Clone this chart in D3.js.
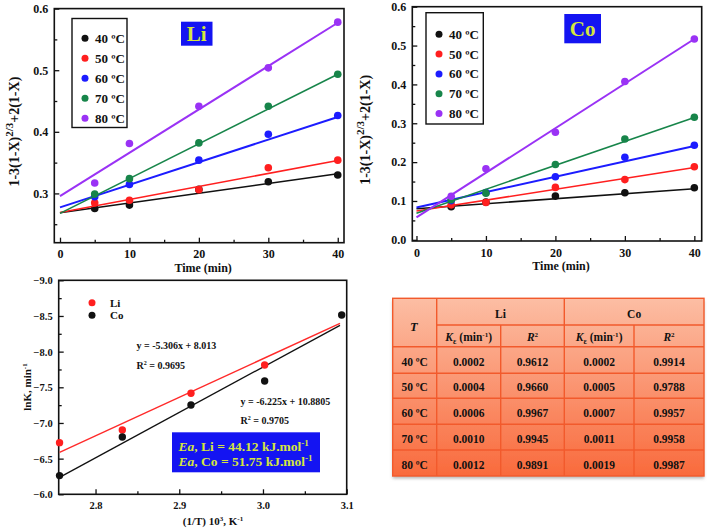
<!DOCTYPE html>
<html><head><meta charset="utf-8">
<script src="https://cdn.jsdelivr.net/npm/d3@7"></script>
<style>
body{margin:0;background:#fff}
svg{display:block}
text{font-family:"Liberation Serif","Times New Roman",serif;font-weight:bold;fill:#111}
</style>
</head><body>
<svg id="c" width="708" height="529"></svg>
<script>
// ---------- data ----------
const times = [5, 10, 20, 30, 40];
const fitTimes = [0, 40];
const temps = ["40 ºC", "50 ºC", "60 ºC", "70 ºC", "80 ºC"];
const timeTicks = [0, 10, 20, 30, 40];
const timeMinor = [5, 15, 25, 35];

// Li leaching, 1-3(1-X)^(2/3)+2(1-X)
const li40 = [0.2757, 0.281, 0.3065, 0.319, 0.330];
const li50 = [0.2848, 0.289, 0.306, 0.3416, 0.354];
const li60 = [0.2945, 0.3146, 0.354, 0.396, 0.4265];
const li70 = [0.2989, 0.324, 0.382, 0.4416, 0.4935];
const li80 = [0.317, 0.381, 0.4416, 0.5038, 0.578];
const liFitStart = [0.2686, 0.269, 0.2773, 0.2676, 0.2957];
const liFitEnd = [0.332, 0.3535, 0.424, 0.4935, 0.577];
const liYTicks = [0.3, 0.4, 0.5, 0.6];
const liYMinor = [0.25, 0.35, 0.45, 0.55];

// Co leaching
const co40 = [0.085, 0.097, 0.1126, 0.121, 0.134];
const co50 = [0.090, 0.096, 0.135, 0.155, 0.188];
const co60 = [0.101, 0.122, 0.1625, 0.2124, 0.2433];
const co70 = [0.103, 0.120, 0.194, 0.2597, 0.3156];
const co80 = [0.112, 0.183, 0.277, 0.4076, 0.5168];
const coFitStart = [0.080, 0.074, 0.083, 0.0686, 0.058];
const coFitEnd = [0.1316, 0.186, 0.2416, 0.3147, 0.5168];
const coYTicks = [0.0, 0.1, 0.2, 0.3, 0.4, 0.5, 0.6];
const coYMinor = [0.05, 0.15, 0.25, 0.35, 0.45, 0.55];

// Arrhenius plot
const invTLi = [2.757, 2.832, 2.914, 3.002];
const lnKLi = [-6.724, -6.902, -7.416, -7.813];
const invTCo = [2.757, 2.832, 2.914, 3.002, 3.094];
const lnKCo = [-6.262, -6.804, -7.252, -7.589, -8.514];
const fitInvT = [2.757, 3.092];
const lnKLiFit = [-6.589, -8.397];
const lnKCoFit = [-6.238, -8.369];
const invTTicks = [2.8, 2.9, 3.0, 3.1];
const invTMinor = [2.85, 2.95, 3.05];
const lnKTicks = [-9.0, -8.5, -8.0, -7.5, -7.0, -6.5, -6.0];
const lnKMinor = [-8.75, -8.25, -7.75, -7.25, -6.75, -6.25];

// Table
const tableTemps = ["40 ºC", "50 ºC", "60 ºC", "70 ºC", "80 ºC"];
const tableLiK = ["0.0002", "0.0004", "0.0006", "0.0010", "0.0012"];
const tableLiR2 = ["0.9612", "0.9660", "0.9967", "0.9945", "0.9891"];
const tableCoK = ["0.0002", "0.0005", "0.0007", "0.0011", "0.0019"];
const tableCoR2 = ["0.9914", "0.9788", "0.9957", "0.9958", "0.9987"];

// ---------- drawing ----------
const colors = ["#111111", "#ff1f1f", "#1c1cff", "#17854a", "#9a32f5"];
const svg = d3.select("#c");
const defs = svg.append("defs");

function styleAxis(sel, fs) {
  sel.select(".domain").remove();
  sel.selectAll(".tick line").attr("stroke", "#111").attr("stroke-width", 1.3);
  sel.selectAll(".tick text").attr("font-size", fs).attr("fill", "#111")
     .attr("font-family", '"Liberation Serif",serif').attr("font-weight", "bold");
}

function frameAxes(g, x, y, xt, xm, yt, ym, fmtX, fmtY, fs) {
  const [xa, xb] = x.range(), [ya, yb] = y.range();
  const gx = g.append("g").attr("transform", `translate(0,${ya})`)
    .call(d3.axisBottom(x).tickValues(xt).tickSize(-5).tickSizeOuter(0).tickPadding(7).tickFormat(fmtX));
  styleAxis(gx, fs);
  const gxm = g.append("g").attr("transform", `translate(0,${ya})`)
    .call(d3.axisBottom(x).tickValues(xm).tickSize(-3).tickSizeOuter(0).tickFormat(""));
  styleAxis(gxm, fs);
  const gy = g.append("g").attr("transform", `translate(${xa},0)`)
    .call(d3.axisLeft(y).tickValues(yt).tickSize(-5).tickSizeOuter(0).tickPadding(6).tickFormat(fmtY));
  styleAxis(gy, fs);
  const gym = g.append("g").attr("transform", `translate(${xa},0)`)
    .call(d3.axisLeft(y).tickValues(ym).tickSize(-3).tickSizeOuter(0).tickFormat(""));
  styleAxis(gym, fs);
  g.append("rect").attr("x", xa).attr("y", yb).attr("width", xb - xa).attr("height", ya - yb)
    .attr("fill", "none").attr("stroke", "#111").attr("stroke-width", 1.6);
}

function kineticPanel(cfg) {
  const g = svg.append("g");
  const x = d3.scaleLinear().domain(cfg.xDomain).range([cfg.left, cfg.right]);
  const y = d3.scaleLinear().domain(cfg.yDomain).range([cfg.bottom, cfg.top]);
  frameAxes(g, x, y, timeTicks, timeMinor, cfg.yTicks, cfg.yMinor, d3.format("d"), d3.format(".1f"), 12);
  const line = d3.line().x(d => x(d[0])).y(d => y(d[1]));
  cfg.series.forEach((vals, i) => {
    g.append("path").datum(fitTimes.map((t, j) => [t, j === 0 ? cfg.fitStart[i] : cfg.fitEnd[i]]))
      .attr("d", line).attr("fill", "none").attr("stroke", colors[i])
      .attr("stroke-width", i === 2 || i === 4 ? 2 : 1.6);
    g.selectAll(null).data(vals).enter().append("circle")
      .attr("cx", (d, j) => x(times[j])).attr("cy", d => y(d)).attr("r", 3.8)
      .attr("fill", colors[i]);
  });
  // legend
  const lg = cfg.legend;
  g.append("rect").attr("x", lg.x).attr("y", lg.y).attr("width", lg.w).attr("height", lg.h)
    .attr("fill", "#fff").attr("stroke", "#111").attr("stroke-width", 1.4);
  temps.forEach((t, i) => {
    const yy = lg.y + lg.first + i * lg.step;
    g.append("circle").attr("cx", lg.x + 13).attr("cy", yy).attr("r", 3.5).attr("fill", colors[i]);
    g.append("text").attr("x", lg.x + 23).attr("y", yy).attr("dy", "0.35em")
      .attr("font-size", 13).text(t);
  });
  // element box
  const eb = cfg.elem;
  g.append("rect").attr("x", eb.x).attr("y", eb.y).attr("width", eb.w).attr("height", eb.h).attr("fill", "#1414f2");
  g.append("text").attr("x", eb.x + eb.w / 2).attr("y", eb.y + eb.h / 2).attr("dy", "0.36em")
    .attr("text-anchor", "middle").attr("font-size", 21).style("fill", "#d5e63c").text(cfg.label);
  // axis titles
  g.append("text").attr("x", (cfg.left + cfg.right) / 2 + 4).attr("y", cfg.bottom + 29)
    .attr("text-anchor", "middle").attr("font-size", 12).text("Time (min)");
  const yt = g.append("text").attr("transform", `translate(${cfg.ytx},${(cfg.top + cfg.bottom) / 2 + 6}) rotate(-90)`)
    .attr("text-anchor", "middle").attr("font-size", 14);
  yt.append("tspan").text("1-3(1-X)");
  yt.append("tspan").attr("dy", -6).attr("font-size", 11).text("2/3");
  yt.append("tspan").attr("dy", 6).text("+2(1-X)");
}

kineticPanel({
  left: 54.3, right: 344, top: 8.6, bottom: 242.7,
  xDomain: [-0.82, 40.9], yDomain: [0.22, 0.6],
  yTicks: liYTicks, yMinor: liYMinor,
  series: [li40, li50, li60, li70, li80], fitStart: liFitStart, fitEnd: liFitEnd,
  legend: {x: 72, y: 18.5, w: 55, h: 109, first: 19.8, step: 20},
  elem: {x: 181, y: 21.7, w: 31.5, h: 24},
  label: "Li", ytx: 19
});

kineticPanel({
  left: 412.3, right: 701.7, top: 6.7, bottom: 241,
  xDomain: [-0.6, 41.06], yDomain: [-0.003, 0.6],
  yTicks: coYTicks, yMinor: coYMinor,
  series: [co40, co50, co60, co70, co80], fitStart: coFitStart, fitEnd: coFitEnd,
  legend: {x: 426, y: 12.7, w: 57.3, h: 111.3, first: 21.6, step: 19.8},
  elem: {x: 564.3, y: 14, w: 36.7, h: 29.3},
  label: "Co", ytx: 370
});

// ---------- Arrhenius panel ----------
(function () {
  const g = svg.append("g");
  const x = d3.scaleLinear().domain([2.756, 3.1]).range([58.7, 346.7]);
  const y = d3.scaleLinear().domain([-6, -9]).range([494.3, 280.3]);
  frameAxes(g, x, y, invTTicks, invTMinor, lnKTicks, lnKMinor, d3.format(".1f"), d3.format(".1f"), 10.5);
  const line = d3.line().x(d => x(d[0])).y(d => y(d[1]));
  g.append("path").datum(fitInvT.map((t, j) => [t, lnKLiFit[j]])).attr("d", line)
    .attr("fill", "none").attr("stroke", "#ff2a2a").attr("stroke-width", 1.4);
  g.append("path").datum(fitInvT.map((t, j) => [t, lnKCoFit[j]])).attr("d", line)
    .attr("fill", "none").attr("stroke", "#111").attr("stroke-width", 1.3);
  g.selectAll(null).data(lnKLi).enter().append("circle")
    .attr("cx", (d, i) => x(invTLi[i])).attr("cy", d => y(d)).attr("r", 3.7).attr("fill", "#ff1f1f");
  g.selectAll(null).data(lnKCo).enter().append("circle")
    .attr("cx", (d, i) => x(invTCo[i])).attr("cy", d => y(d)).attr("r", 3.7).attr("fill", "#111");
  // legend
  [["Li", "#ff1f1f", 302.7], ["Co", "#111", 315.3]].forEach(([t, c, yy]) => {
    g.append("circle").attr("cx", 92).attr("cy", yy).attr("r", 3.5).attr("fill", c);
    g.append("text").attr("x", 110).attr("y", yy).attr("dy", "0.35em").attr("font-size", 11).text(t);
  });
  // equations
  const eq = (xx, yy, s) => g.append("text").attr("x", xx).attr("y", yy).attr("font-size", 10).text(s);
  eq(136.5, 348.5, "y = -5.306x + 8.013");
  const r1 = g.append("text").attr("x", 136.5).attr("y", 368.5).attr("font-size", 10);
  r1.append("tspan").text("R"); r1.append("tspan").attr("dy", -4).attr("font-size", 6).text("2");
  r1.append("tspan").attr("dy", 4).text(" = 0.9695");
  eq(240.5, 405, "y = -6.225x + 10.8805");
  const r2 = g.append("text").attr("x", 240.5).attr("y", 423.5).attr("font-size", 10);
  r2.append("tspan").text("R"); r2.append("tspan").attr("dy", -4).attr("font-size", 6).text("2");
  r2.append("tspan").attr("dy", 4).text(" = 0.9705");
  // Ea box
  g.append("rect").attr("x", 172).attr("y", 432.3).attr("width", 148).attr("height", 40).attr("fill", "#1414f2");
  [["Li = 44.12 kJ.mol", 450.5], ["Co = 51.75 kJ.mol", 466]].forEach(([s, yy]) => {
    const t = g.append("text").attr("x", 178.5).attr("y", yy).attr("font-size", 13.5)
      .attr("font-weight", "normal").style("fill", "#d5e63c");
    t.append("tspan").attr("font-style", "italic").text("Ea");
    t.append("tspan").text(", " + s);
    t.append("tspan").attr("dy", -5).attr("font-size", 9).text("-1");
  });
  // axis titles
  const yt = g.append("text").attr("transform", "translate(31,387) rotate(-90)")
    .attr("text-anchor", "middle").attr("font-size", 11);
  yt.append("tspan").text("lnK, min"); yt.append("tspan").attr("dy", -4).attr("font-size", 7).text("-1");
  const xt = g.append("text").attr("x", 213).attr("y", 525).attr("text-anchor", "middle").attr("font-size", 11);
  xt.append("tspan").text("(1/T) 10"); xt.append("tspan").attr("dy", -4).attr("font-size", 7).text("3");
  xt.append("tspan").attr("dy", 4).text(", K"); xt.append("tspan").attr("dy", -4).attr("font-size", 7).text("-1");
})();

// ---------- Table ----------
(function () {
  const g = svg.append("g");
  const grad = defs.append("linearGradient").attr("id", "tg").attr("x1", 0).attr("y1", 0).attr("x2", 0).attr("y2", 1);
  grad.append("stop").attr("offset", 0).attr("stop-color", "#fcbea4");
  grad.append("stop").attr("offset", 1).attr("stop-color", "#f96a3c");
  const f = defs.append("filter").attr("id", "sh").attr("x", "-5%").attr("y", "-5%").attr("width", "110%").attr("height", "115%");
  f.append("feDropShadow").attr("dx", 0).attr("dy", 2.5).attr("stdDeviation", 1.5).attr("flood-color", "#888").attr("flood-opacity", 0.6);
  const L = 392.7, R = 704, T = 298.3, B = 476;
  const cols = [L, 436.7, 500.7, 564.3, 634, R];
  const rows = [T, 325, 346.7, 373.3, 398.3, 424.3, 450, B];
  g.append("rect").attr("x", L).attr("y", T).attr("width", R - L).attr("height", B - T)
    .attr("fill", "url(#tg)").attr("filter", "url(#sh)");
  const ln = (x1, y1, x2, y2) => g.append("line").attr("x1", x1).attr("y1", y1).attr("x2", x2).attr("y2", y2)
    .attr("stroke", "#f25a2c").attr("stroke-width", 1.4);
  ln(cols[1], rows[1], R, rows[1]);
  rows.slice(2, 7).forEach(r => ln(L, r, R, r));
  ln(cols[1], T, cols[1], B); ln(cols[3], T, cols[3], B);
  ln(cols[2], rows[1], cols[2], B); ln(cols[4], rows[1], cols[4], B);
  g.append("rect").attr("x", L).attr("y", T).attr("width", R - L).attr("height", B - T)
    .attr("fill", "none").attr("stroke", "#f25a2c").attr("stroke-width", 1.4);
  const cx = i => (cols[i] + cols[i + 1]) / 2;
  const txt = (x, y, s, fs) => g.append("text").attr("x", x).attr("y", y).attr("dy", "0.35em")
    .attr("text-anchor", "middle").attr("font-size", fs || 11.5).text(s);
  txt(cx(0) - 1, 327, "T", 12.5).attr("font-style", "italic");
  txt((cols[1] + cols[3]) / 2, 314, "Li");
  txt((cols[3] + cols[5]) / 2, 314, "Co");
  [1, 3].forEach(i => {
    const t = g.append("text").attr("x", cx(i)).attr("y", 341).attr("text-anchor", "middle").attr("font-size", 11.5);
    t.append("tspan").attr("font-style", "italic").text("K");
    t.append("tspan").attr("dy", 3).attr("font-size", 8).text("ε");
    t.append("tspan").attr("dy", -3).text(" (min");
    t.append("tspan").attr("dy", -4).attr("font-size", 7).text("-1");
    t.append("tspan").attr("dy", 4).text(")");
  });
  [2, 4].forEach(i => {
    const t = g.append("text").attr("x", cx(i)).attr("y", 341).attr("text-anchor", "middle").attr("font-size", 11.5);
    t.append("tspan").attr("font-style", "italic").text("R");
    t.append("tspan").attr("dy", -4).attr("font-size", 7).text("2");
  });
  tableTemps.forEach((t, r) => {
    const yy = (rows[r + 2] + rows[r + 3]) / 2 + 1.5;
    txt(cx(0), yy, t);
    txt(cx(1), yy, tableLiK[r]);
    txt(cx(2), yy, tableLiR2[r]);
    txt(cx(3), yy, tableCoK[r]);
    txt(cx(4), yy, tableCoR2[r]);
  });
})();
</script>
</body></html>
